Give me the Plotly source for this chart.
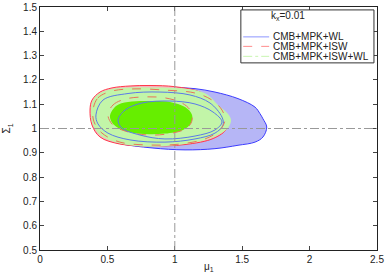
import plotly.graph_objects as go

# Contour boundaries (mu_1, Sigma_1)
wl95_mu = [0.386,0.415,0.467,0.556,0.668,0.816,1.001,1.150,1.298,1.469,1.595,1.632,1.654,1.682,1.654,1.595,1.469,1.298,1.076,0.831,0.579,0.445,0.393]
wl95_sig = [1.068,1.117,1.146,1.163,1.169,1.173,1.169,1.164,1.150,1.123,1.088,1.061,1.040,1.006,0.965,0.944,0.931,0.917,0.912,0.920,0.940,0.969,1.014]

isw95_mu = [0.371,0.386,0.445,0.534,0.668,0.816,1.001,1.187,1.300,1.380,1.385,1.290,1.076,0.816,0.593,0.445,0.386]
isw95_sig = [1.076,1.117,1.150,1.167,1.175,1.177,1.172,1.150,1.100,1.050,1.000,0.960,0.934,0.928,0.936,0.965,1.014]

iswwl95_mu = [0.378,0.393,0.445,0.534,0.668,0.816,1.001,1.150,1.246,1.320,1.395,1.417,1.395,1.320,1.224,1.076,0.890,0.705,0.556,0.445,0.393]
iswwl95_sig = [1.068,1.117,1.146,1.163,1.169,1.169,1.167,1.158,1.138,1.097,1.060,1.035,1.002,0.973,0.953,0.936,0.926,0.928,0.944,0.973,1.014]

iswwl68_mu = [0.519,0.564,0.653,0.816,0.964,1.076,1.128,1.120,1.061,0.927,0.779,0.631,0.542]
iswwl68_sig = [1.051,1.093,1.109,1.113,1.109,1.088,1.056,1.023,0.994,0.979,0.977,0.990,1.019]

wl_outer_mu = [0.415,0.467,0.653,0.890,1.113,1.261,1.350,1.358,1.298,1.150,0.927,0.668,0.504,0.430]
wl_outer_sig = [1.056,1.117,1.144,1.150,1.138,1.105,1.047,1.014,0.981,0.957,0.944,0.953,0.981,1.019]

wl_inner_mu = [0.579,0.631,0.757,0.964,1.150,1.283,1.350,1.298,1.150,0.927,0.742,0.608]
wl_inner_sig = [1.035,1.076,1.105,1.113,1.101,1.068,1.027,0.994,0.969,0.957,0.973,1.002]

isw_outer_mu = [0.393,0.430,0.534,0.705,0.927,1.150,1.276,1.350,1.372,1.335,1.224,1.039,0.816,0.593,0.460,0.401]
isw_outer_sig = [1.076,1.126,1.154,1.163,1.158,1.146,1.117,1.076,1.035,0.994,0.957,0.936,0.932,0.944,0.981,1.027]

isw_inner_mu = [0.504,0.542,0.631,0.779,0.927,1.053,1.113,1.128,1.091,0.979,0.816,0.653,0.542]
isw_inner_sig = [1.056,1.097,1.121,1.130,1.126,1.105,1.076,1.035,1.002,0.981,0.973,0.986,1.014]

ref_mu = 1.0
ref_sigma = 1.0

x_ticks = [0, 0.5, 1, 1.5, 2, 2.5]
x_labels = ["0", "0.5", "1", "1.5", "2", "2.5"]
y_ticks = [0.5, 0.6, 0.7, 0.8, 0.9, 1.0, 1.1, 1.2, 1.3, 1.4, 1.5]
y_labels = ["0.5", "0.6", "0.7", "0.8", "0.9", "1", "1.1", "1.2", "1.3", "1.4", "1.5"]

legend_names = ["CMB+MPK+WL", "CMB+MPK+ISW", "CMB+MPK+ISW+WL"]
legend_colors = ["#8c96ff", "#ff8c8c", "#c8f5b0"]
legend_dashes = ["solid", "dash", "dashdot"]
legend_title = "k<sub>x</sub>=0.01"

FONT = "Liberation Sans, Arial, Helvetica, sans-serif"


def closed(a):
    return list(a) + [a[0]]


fig = go.Figure()


def add_region(mu, sig, fill, edge, width=1.0, dash="solid"):
    fig.add_trace(go.Scatter(
        x=closed(mu), y=closed(sig), mode="lines",
        line=dict(color=edge, width=width, dash=dash, shape="spline", smoothing=1.0),
        fill="toself" if fill else None, fillcolor=fill,
        showlegend=False, hoverinfo="skip"))


add_region(wl95_mu, wl95_sig, "#b6b6f6", "#3c3cff", 1.0)
add_region(isw95_mu, isw95_sig, "#f7b4c0", "#ff3a4a", 1.0)
add_region(iswwl95_mu, iswwl95_sig, "#c2f5a8", "rgba(0,0,0,0)", 0.5)
add_region(wl_outer_mu, wl_outer_sig, None, "#5a7ae8", 1.0)
add_region(isw_outer_mu, isw_outer_sig, None, "#e8745a", 1.0, "dash")
add_region(iswwl68_mu, iswwl68_sig, "#66ee00", "rgba(0,0,0,0)", 0.5)
add_region(isw_inner_mu, isw_inner_sig, None, "#e8745a", 1.0, "dash")
add_region(wl_inner_mu, wl_inner_sig, None, "#5a7ae8", 1.0)

fig.add_vline(x=ref_mu, line=dict(color="#999999", width=1, dash="dashdot"), layer="above")
fig.add_hline(y=ref_sigma, line=dict(color="#999999", width=1, dash="dashdot"), layer="above")

# hand-built legend box (paper coordinates)
fig.add_shape(type="rect", xref="paper", yref="paper", x0=0.596, x1=0.991, y0=0.770, y1=0.988,
              line=dict(color="#333333", width=1), fillcolor="white", layer="above")
fig.add_annotation(x=0.737, y=0.962, xref="paper", yref="paper", text=legend_title,
                   showarrow=False, xanchor="center", yanchor="middle",
                   font=dict(size=10, color="#222", family=FONT))
row_y = [0.877, 0.838, 0.797]
for name, col, dsh, yy in zip(legend_names, legend_colors, legend_dashes, row_y):
    fig.add_shape(type="line", xref="paper", yref="paper", x0=0.603, x1=0.68, y0=yy, y1=yy,
                  line=dict(color=col, width=1, dash=dsh), layer="above")
    fig.add_annotation(x=0.684, y=yy, xref="paper", yref="paper", text=name,
                       showarrow=False, xanchor="left", yanchor="middle",
                       font=dict(size=10, color="#222", family=FONT))

# axis titles
fig.add_annotation(x=0.5, y=-0.072, xref="paper", yref="paper", text="μ<sub>1</sub>",
                   showarrow=False, xanchor="center", yanchor="middle",
                   font=dict(size=10, color="#222", family=FONT))
fig.add_annotation(x=-0.098, y=0.5, xref="paper", yref="paper", text="Σ<sub>1</sub>",
                   showarrow=False, xanchor="center", yanchor="middle", textangle=-90,
                   font=dict(size=10, color="#222", family=FONT))

axis_common = dict(showgrid=False, zeroline=False, showline=True, linecolor="#222",
                   linewidth=1, mirror="ticks", ticks="inside", ticklen=4,
                   tickcolor="#444", tickfont=dict(size=10, color="#222", family=FONT),
                   automargin=False)

fig.update_layout(
    width=388, height=277,
    margin=dict(l=40, r=11, t=7, b=27, autoexpand=False),
    paper_bgcolor="white", plot_bgcolor="white",
    font=dict(family=FONT, size=10, color="#222"),
    xaxis=dict(range=[0, 2.5], tickvals=x_ticks, ticktext=x_labels, **axis_common),
    yaxis=dict(range=[0.5, 1.5], tickvals=y_ticks, ticktext=y_labels, **axis_common),
    showlegend=False,
)

fig.write_html(
    "out.html",
    config={"displayModeBar": False},
    post_script="document.body.style.margin='0';document.body.style.overflow='hidden';",
)
